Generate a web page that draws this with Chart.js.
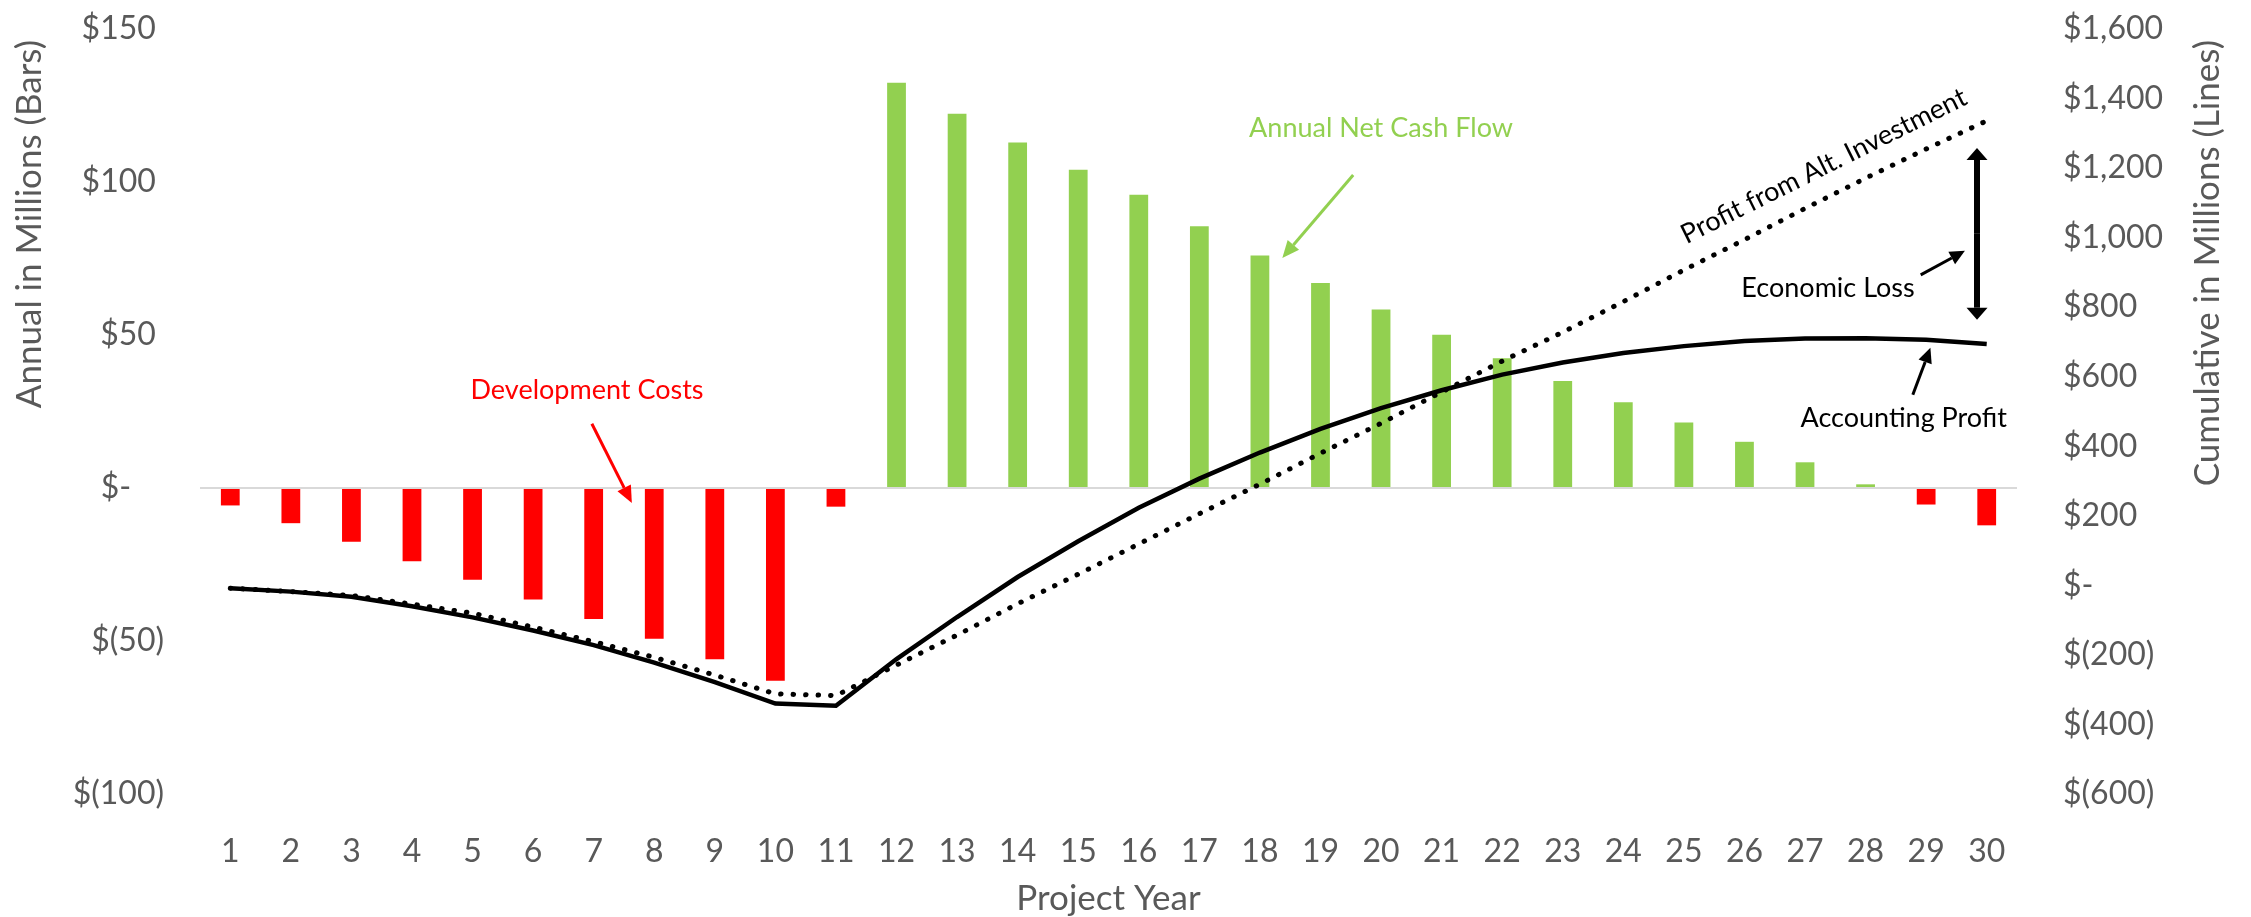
<!DOCTYPE html>
<html>
<head>
<meta charset="utf-8">
<title>Accounting Profit vs. Profit from Alt. Investment</title>
<script src="https://cdn.jsdelivr.net/npm/chart.js@4.4.3/dist/chart.umd.min.js"></script>
<style>
    html, body { margin: 0; padding: 0; background: #ffffff; }
    #wrap { width: 2251px; height: 917px; position: relative; }
</style>
</head>
<body>
<div id="wrap"><canvas id="profitChart"></canvas></div>
<script>
    'use strict';

    // Project years along the bottom axis
    const projectYears = [
        '1', '2', '3', '4', '5', '6', '7', '8', '9', '10',
        '11', '12', '13', '14', '15', '16', '17', '18', '19', '20',
        '21', '22', '23', '24', '25', '26', '27', '28', '29', '30',
    ];

    // Annual net cash flow in $ millions (bars, left axis)
    const annualCashFlow = [
        -5.7, -11.5, -17.6, -23.9, -30.0, -36.4, -42.8, -49.3, -56.0, -63.0,
        -6.1, 132.4, 122.3, 112.9, 104.0, 95.8, 85.5, 76.0, 67.0, 58.3,
        50.1, 42.4, 35.0, 28.0, 21.4, 15.1, 8.4, 1.2, -5.4, -12.2,
    ];

    // Cumulative accounting profit in $ millions (solid line, right axis)
    const accountingProfit = [
        -8, -18, -33, -60, -92, -130, -172, -222, -278, -340,
        -346, -212, -91, 24, 127, 223, 307, 382, 450, 510,
        561, 606, 641, 668, 688, 703, 710, 711, 706, 694,
    ];

    // Cumulative profit from the alternative investment in $ millions (dotted line, right axis)
    const altInvestmentProfit = [
        -8, -18, -29, -54, -80, -120, -162, -207, -258, -312,
        -317, -229, -143, -53, 32, 119, 206, 291, 380, 466,
        556, 645, 728, 816, 907, 994, 1084, 1171, 1255, 1336,
    ];

    // Tick values for the two value axes
    const annualTicks = [-100, -50, 0, 50, 100, 150];
    const cumulativeTicks = [-600, -400, -200, 0, 200, 400, 600, 800, 1000, 1200, 1400, 1600];

    const RED = '#FF0000';
    const GREEN = '#92D050';
    const GREY_TEXT = '#595959';
    const FONT = 'Lato, "Open Sans", sans-serif';

    /**
     * Accounting style labels: $150, $-, $(50)
     * Positive and zero labels get trailing space so the digits line up with the bracketed ones.
     */
    function formatAccounting(value, padForBrackets) {
        if (value === 0) return padForBrackets ? '$-    ' : '$-';
        const abs = Math.abs(value).toLocaleString('en-US');
        if (value < 0) return `$(${abs})`;
        return padForBrackets ? `$${abs} ` : `$${abs}`;
    }

    function drawArrow(ctx, x1, y1, x2, y2, color, width, headLen, headWidth) {
        const ang = Math.atan2(y2 - y1, x2 - x1);
        const bx = x2 - headLen * Math.cos(ang);
        const by = y2 - headLen * Math.sin(ang);
        const nx = Math.sin(ang) * headWidth / 2;
        const ny = Math.cos(ang) * headWidth / 2;
        ctx.save();
        ctx.strokeStyle = color;
        ctx.fillStyle = color;
        ctx.lineWidth = width;
        ctx.beginPath();
        ctx.moveTo(x1, y1);
        ctx.lineTo(bx, by);
        ctx.stroke();
        ctx.beginPath();
        ctx.moveTo(x2, y2);
        ctx.lineTo(bx + nx, by - ny);
        ctx.lineTo(bx - nx, by + ny);
        ctx.closePath();
        ctx.fill();
        ctx.restore();
    }

    function drawText(ctx, text, x, y, color, size, angle) {
        ctx.save();
        ctx.translate(x, y);
        if (angle) ctx.rotate(angle);
        ctx.font = `${size}px ${FONT}`;
        ctx.fillStyle = color;
        ctx.textAlign = 'center';
        ctx.textBaseline = 'middle';
        ctx.fillText(text, 0, 0);
        ctx.restore();
    }

    // Value axes keep no extra room for half-height labels, so the plot starts at the layout padding
    function fixVerticalAxis(width) {
        return (scale) => {
            scale.width = width;
            scale.paddingTop = 0;
            scale.paddingBottom = 0;
        };
    }

    // Axis titles: both vertical titles read bottom-to-top and sit at the top of the plot
    const axisTitles = {
        id: 'axisTitles',
        afterDraw(chart) {
            const { ctx, chartArea } = chart;
            ctx.save();
            ctx.font = `35px ${FONT}`;
            ctx.fillStyle = GREY_TEXT;
            ctx.textBaseline = 'middle';

            [[30, 'Annual in Millions (Bars)'], [2208, 'Cumulative in Millions (Lines)']].forEach(([x, text]) => {
                ctx.save();
                ctx.translate(x, chartArea.top + 11);
                ctx.rotate(-Math.PI / 2);
                ctx.textAlign = 'right';
                ctx.fillText(text, 0, 0);
                ctx.restore();
            });

            ctx.textAlign = 'center';
            ctx.fillText('Project Year', (chartArea.left + chartArea.right) / 2, 899);
            ctx.restore();
        },
    };

    // Callout labels and arrows, anchored to year index and axis values
    const callouts = {
        id: 'callouts',
        afterDatasetsDraw(chart) {
            const { ctx, scales } = chart;
            const px = (i) => scales.x.getPixelForValue(i);
            const pyL = (v) => scales.y.getPixelForValue(v);
            const pyR = (v) => scales.y1.getPixelForValue(v);

            drawText(ctx, 'Development Costs', px(5.89), pyL(32), RED, 27);
            drawArrow(ctx, px(5.97), pyL(21), px(6.63), pyL(-4.9), RED, 3, 17, 15);

            drawText(ctx, 'Annual Net Cash Flow', px(19.0), pyL(117.6), GREEN, 27);
            drawArrow(ctx, px(18.54), pyL(102.3), px(17.37), pyL(75.2), GREEN, 3, 17, 15);

            drawText(ctx, 'Profit from Alt. Investment', px(26.31), pyR(1206), '#000000', 27, -26.5 * Math.PI / 180);

            drawText(ctx, 'Economic Loss', px(26.38), pyR(854), '#000000', 27);
            drawArrow(ctx, px(27.91), pyR(893), px(28.64), pyR(962), '#000000', 3, 15, 14);

            // Gap between the two cumulative lines at the end of the project
            const gx = px(28.84);
            const top = pyR(1258);
            const bottom = pyR(764);
            const mid = (top + bottom) / 2;
            drawArrow(ctx, gx, mid, gx, top, '#000000', 6, 12, 21);
            drawArrow(ctx, gx, mid, gx, bottom, '#000000', 6, 12, 21);

            drawText(ctx, 'Accounting Profit', px(27.63), pyR(481), '#000000', 27);
            drawArrow(ctx, px(27.78), pyR(548), px(28.07), pyR(683), '#000000', 3, 15, 14);
        },
    };

    Chart.defaults.font.family = FONT;
    Chart.defaults.color = GREY_TEXT;

    const ctx = document.getElementById('profitChart').getContext('2d');
    // eslint-disable-next-line no-undef
    new Chart(ctx, {
        data: {
            labels: projectYears,
            datasets: [
                {
                    type: 'line',
                    label: 'Profit from Alt. Investment',
                    data: altInvestmentProfit,
                    yAxisID: 'y1',
                    borderColor: '#000000',
                    borderWidth: 5,
                    borderDash: [0.5, 12],
                    borderCapStyle: 'round',
                    pointRadius: 0,
                    tension: 0,
                    order: 1,
                },
                {
                    type: 'line',
                    label: 'Accounting Profit',
                    data: accountingProfit,
                    yAxisID: 'y1',
                    borderColor: '#000000',
                    borderWidth: 4.5,
                    pointRadius: 0,
                    tension: 0,
                    order: 2,
                },
                {
                    type: 'bar',
                    label: 'Annual Net Cash Flow',
                    data: annualCashFlow,
                    yAxisID: 'y',
                    backgroundColor: annualCashFlow.map((v) => (v < 0 ? RED : GREEN)),
                    borderWidth: 0,
                    categoryPercentage: 1,
                    barPercentage: 0.31,
                    order: 3,
                },
            ],
        },
        options: {
            responsive: true,
            maintainAspectRatio: false,
            devicePixelRatio: 1,
            animation: false,
            layout: { padding: { top: 29, left: 0, right: 0, bottom: 0 } },
            plugins: {
                legend: { display: false },
                title: { display: false },
                tooltip: { enabled: false },
            },
            scales: {
                x: {
                    type: 'category',
                    grid: { display: false },
                    border: { display: false },
                    ticks: {
                        font: { size: 32 },
                        color: GREY_TEXT,
                        padding: 30,
                        maxRotation: 0,
                        autoSkip: false,
                    },
                    afterFit: (scale) => { scale.height = 123; },
                },
                y: {
                    position: 'left',
                    min: -100,
                    max: 150,
                    afterBuildTicks: (axis) => { axis.ticks = annualTicks.map((v) => ({ value: v })); },
                    grid: {
                        drawTicks: false,
                        lineWidth: 2,
                        color: (c) => (c.tick && c.tick.value === 0 ? '#D9D9D9' : 'rgba(0,0,0,0)'),
                    },
                    border: { display: false },
                    ticks: {
                        font: { size: 32 },
                        color: GREY_TEXT,
                        padding: 36,
                        callback: (value) => formatAccounting(value, true),
                    },
                    afterFit: fixVerticalAxis(200),
                },
                y1: {
                    position: 'right',
                    min: -600,
                    max: 1600,
                    afterBuildTicks: (axis) => { axis.ticks = cumulativeTicks.map((v) => ({ value: v })); },
                    grid: { display: false, drawTicks: false },
                    border: { display: false },
                    ticks: {
                        font: { size: 32 },
                        color: GREY_TEXT,
                        padding: 46,
                        callback: (value) => formatAccounting(value, false),
                    },
                    afterFit: fixVerticalAxis(234),
                },
            },
        },
        plugins: [axisTitles, callouts],
    });
</script>
</body>
</html>
